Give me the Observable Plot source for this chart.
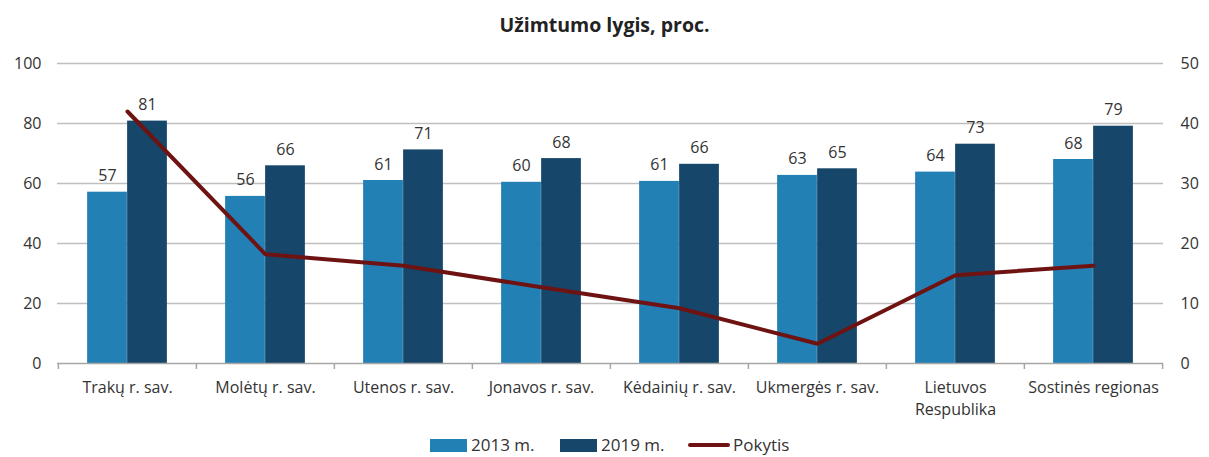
<!DOCTYPE html>
<html>
<head>
<meta charset="utf-8">
<script src="https://cdn.jsdelivr.net/npm/d3@7"></script>
<script src="https://cdn.jsdelivr.net/npm/@observablehq/plot@0.6"></script>
<style>
  html, body { margin: 0; padding: 0; background: #fff; overflow: hidden; }
  body { width: 1209px; height: 457px; font-family: "Open Sans", sans-serif; color: #333; }
  #title { height: 45px; line-height: 50px; text-align: center; font-weight: bold; font-size: 19.5px; color: #222; }
  #legend { position: relative; height: 22px; font-size: 17px; color: #333; }
  .item { position: absolute; top: -1px; display: flex; align-items: center; height: 22px; line-height: 22px; }
  .sw { display: inline-block; width: 37px; height: 13px; margin-right: 4px; }
  .ln { display: inline-block; width: 42px; height: 4px; border-radius: 2px; margin-right: 3px; }
</style>
</head>
<body>
<div id="title">Užimtumo lygis, proc.</div>
<div id="chart"></div>
<div id="legend"></div>
<script>
const categories = ["Trakų r. sav.", "Molėtų r. sav.", "Utenos r. sav.", "Jonavos r. sav.", "Kėdainių r. sav.", "Ukmergės r. sav.", "Lietuvos Respublika", "Sostinės regionas"];
const categoryLabels = ["Trakų r. sav.", "Molėtų r. sav.", "Utenos r. sav.", "Jonavos r. sav.", "Kėdainių r. sav.", "Ukmergės r. sav.", "Lietuvos\nRespublika", "Sostinės regionas"];
const values2013 = [57.1, 55.7, 61.0, 60.4, 60.7, 62.7, 63.8, 68.0];
const values2019 = [80.8, 65.9, 71.2, 68.3, 66.4, 64.9, 73.1, 79.1];
const change = [42.0, 18.2, 16.3, 12.7, 9.2, 3.3, 14.7, 16.3];
const leftTicks = [0, 20, 40, 60, 80, 100];
const rightTicks = [0, 10, 20, 30, 40, 50];
const seriesNames = ["2013 m.", "2019 m.", "Pokytis"];
const colors = ["#2380B4", "#164669", "#6E1212"];

const idx = categories.map((_, i) => i);
const W = 1209, ML = 57, MR = 46;
const bw = (W - ML - MR) / categories.length;
const barW = 40;
const gap = (bw - 2 * barW) / 2;
const rightRatio = leftTicks[leftTicks.length - 1] / rightTicks[rightTicks.length - 1];
const FS = 16;

const chart = Plot.plot({
  width: W,
  height: 390,
  marginLeft: ML,
  marginRight: MR,
  marginTop: 18,
  marginBottom: 72,
  style: { fontFamily: "Open Sans, sans-serif", fontSize: FS + "px", color: "#333", background: "white" },
  x: { type: "band", domain: categories, padding: 0 },
  y: { domain: [0, 100] },
  marks: [
    Plot.ruleY(leftTicks.slice(1), { stroke: "#BFBFBF", strokeWidth: 1.5 }),
    Plot.barY(idx, { x: i => categories[i], y: i => values2013[i], fill: colors[0], insetLeft: gap, insetRight: gap + barW }),
    Plot.barY(idx, { x: i => categories[i], y: i => values2019[i], fill: colors[1], insetLeft: gap + barW, insetRight: gap }),
    Plot.ruleY([0], { stroke: "#A6A6A6", strokeWidth: 1.5 }),
    Plot.axisX({ ticks: categories, tickSize: 6, tickFormat: () => "", dx: -bw / 2, stroke: "#A6A6A6", strokeWidth: 1.5 }),
    Plot.axisX({ ticks: categories.slice(-1), tickSize: 6, tickFormat: () => "", dx: bw / 2, stroke: "#A6A6A6", strokeWidth: 1.5 }),
    Plot.axisX({ ticks: categories, tickSize: 0, tickPadding: 14, tickFormat: d => categoryLabels[categories.indexOf(d)], lineHeight: 1.375, label: null, fontSize: FS, fill: "#333" }),
    Plot.axisY({ anchor: "left", ticks: leftTicks, tickSize: 0, tickPadding: 16, label: null, fontSize: FS, fill: "#333" }),
    Plot.axisY({ anchor: "right", ticks: leftTicks, tickSize: 0, tickPadding: 17, tickFormat: d => d / rightRatio, label: null, fontSize: FS, fill: "#333" }),
    Plot.line(idx, { x: i => categories[i], y: i => change[i] * rightRatio, stroke: colors[2], strokeWidth: 4, strokeLinejoin: "miter" }),
    Plot.text(idx, { x: i => categories[i], y: i => values2013[i], text: i => Math.round(values2013[i]), dx: -barW / 2, dy: -11, lineAnchor: "bottom", fontSize: FS, fill: "#333" }),
    Plot.text(idx, { x: i => categories[i], y: i => values2019[i], text: i => Math.round(values2019[i]), dx: barW / 2, dy: -11, lineAnchor: "bottom", fontSize: FS, fill: "#333" })
  ]
});
document.getElementById("chart").appendChild(chart);

const legend = document.getElementById("legend");
const lx = [430, 560, 688];
seriesNames.forEach((name, k) => {
  const it = document.createElement("div");
  it.className = "item";
  it.style.left = lx[k] + "px";
  const s = document.createElement("span");
  s.className = k < 2 ? "sw" : "ln";
  s.style.background = colors[k];
  it.appendChild(s);
  it.appendChild(document.createTextNode(name));
  legend.appendChild(it);
});
</script>
</body>
</html>
